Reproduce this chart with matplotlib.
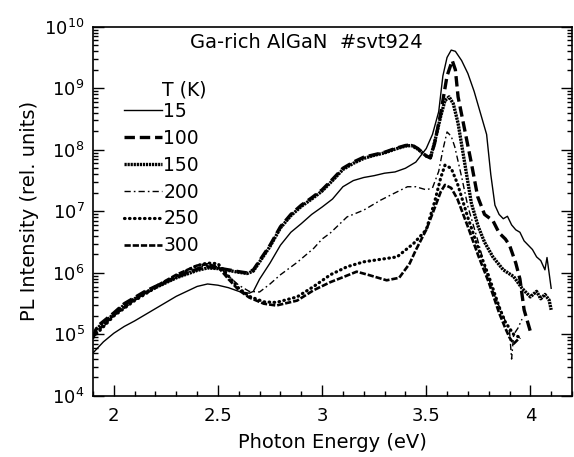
import numpy as np
import matplotlib
matplotlib.use("Agg")
import matplotlib.pyplot as plt
from matplotlib.ticker import FixedLocator, MultipleLocator, NullFormatter

plt.rcParams['font.family'] = ['DejaVu Sans']
plt.rcParams['mathtext.fontset'] = 'dejavusans'
plt.rcParams['lines.scale_dashes'] = False

title_text = "Ga-rich AlGaN  #svt924"
legend_title = "T (K)"
labels = ["15", "100", "150", "200", "250", "300"]
x_ticks = [2, 2.5, 3, 3.5, 4]
x_ticklabels = ["2", "2.5", "3", "3.5", "4"]
y_exponents = [4, 5, 6, 7, 8, 9, 10]

# ---- data (photon energy in eV, log10 of PL intensity) ----
E_15 = [1.90, 1.95, 2.00, 2.05, 2.10, 2.15, 2.20, 2.25, 2.30, 2.35, 2.40, 2.45, 2.50, 2.55,
        2.60, 2.65, 2.67, 2.70, 2.75, 2.80, 2.85, 2.90, 2.95, 3.00, 3.05, 3.10, 3.15, 3.20,
        3.25, 3.30, 3.35, 3.40, 3.45, 3.50, 3.53, 3.56, 3.58, 3.60, 3.62, 3.64, 3.67, 3.70,
        3.73, 3.76, 3.79, 3.81, 3.83, 3.85, 3.87, 3.89, 3.91, 3.93, 3.95, 3.97, 3.99, 4.01,
        4.03, 4.05, 4.07, 4.08, 4.09, 4.10]
L_15 = [4.70, 4.88, 5.02, 5.13, 5.22, 5.32, 5.42, 5.52, 5.62, 5.70, 5.78, 5.82, 5.80, 5.76,
        5.70, 5.67, 5.70, 5.90, 6.16, 6.45, 6.66, 6.80, 6.95, 7.07, 7.20, 7.40, 7.50, 7.55,
        7.58, 7.62, 7.64, 7.70, 7.80, 8.02, 8.25, 8.62, 9.20, 9.50, 9.62, 9.60, 9.45, 9.24,
        8.95, 8.60, 8.25, 7.60, 7.10, 6.95, 6.88, 6.92, 6.78, 6.70, 6.66, 6.52, 6.45, 6.38,
        6.26, 6.20, 6.05, 6.25, 6.00, 5.75]

E_100 = [1.90, 1.92, 2.00, 2.05, 2.10, 2.15, 2.20, 2.25, 2.30, 2.35, 2.40, 2.45, 2.50, 2.55,
         2.60, 2.64, 2.67, 2.70, 2.75, 2.80, 2.85, 2.90, 2.95, 3.00, 3.05, 3.10, 3.15, 3.20,
         3.25, 3.30, 3.35, 3.40, 3.43, 3.46, 3.50, 3.52, 3.54, 3.57, 3.60, 3.625, 3.64, 3.653,
         3.685, 3.717, 3.747, 3.78, 3.82, 3.85, 3.88, 3.90, 3.93, 3.95, 3.97, 4.00]
L_100 = [4.95, 5.13, 5.35, 5.50, 5.60, 5.70, 5.78, 5.86, 5.93, 6.00, 6.06, 6.10, 6.08, 6.05,
         6.02, 6.00, 6.05, 6.20, 6.45, 6.75, 6.95, 7.10, 7.22, 7.35, 7.52, 7.70, 7.80, 7.88,
         7.92, 7.96, 8.02, 8.07, 8.08, 8.02, 7.90, 7.87, 8.10, 8.60, 9.20, 9.45, 9.30, 8.86,
         8.32, 7.78, 7.24, 6.95, 6.85, 6.65, 6.55, 6.45, 6.16, 5.90, 5.40, 5.05]

E_150 = [1.90, 1.92, 2.00, 2.05, 2.10, 2.15, 2.20, 2.25, 2.30, 2.35, 2.40, 2.45, 2.50, 2.55,
         2.60, 2.64, 2.67, 2.70, 2.75, 2.80, 2.85, 2.90, 2.95, 3.00, 3.05, 3.10, 3.15, 3.20,
         3.25, 3.30, 3.35, 3.40, 3.43, 3.46, 3.50, 3.52, 3.54, 3.57, 3.59, 3.61, 3.63, 3.653,
         3.685, 3.717, 3.75, 3.78, 3.82, 3.87, 3.92, 3.96, 4.00, 4.03, 4.05, 4.07, 4.09, 4.10]
L_150 = [5.00, 5.10, 5.33, 5.48, 5.58, 5.68, 5.76, 5.84, 5.92, 5.98, 6.04, 6.08, 6.07, 6.04,
         6.01, 5.99, 6.03, 6.18, 6.43, 6.73, 6.93, 7.08, 7.20, 7.33, 7.50, 7.68, 7.78, 7.86,
         7.91, 7.95, 8.01, 8.06, 8.07, 8.01, 7.90, 7.87, 8.12, 8.55, 8.80, 8.86, 8.75, 8.43,
         7.78, 7.13, 6.75, 6.50, 6.26, 6.05, 5.94, 5.75, 5.61, 5.70, 5.58, 5.65, 5.56, 5.40]

E_200 = [1.90, 2.00, 2.10, 2.20, 2.30, 2.40, 2.45, 2.50, 2.55, 2.60, 2.65, 2.70, 2.75, 2.80,
         2.88, 2.96, 3.00, 3.04, 3.12, 3.20, 3.28, 3.35, 3.41, 3.45, 3.50, 3.53, 3.56, 3.58,
         3.60, 3.62, 3.637, 3.67, 3.70, 3.75, 3.79, 3.83, 3.87, 3.90, 3.91, 3.92, 3.94, 3.96]
L_200 = [4.95, 5.30, 5.55, 5.75, 5.92, 6.08, 6.12, 6.10, 5.95, 5.80, 5.70, 5.69, 5.82, 5.97,
         6.17, 6.40, 6.55, 6.65, 6.91, 7.02, 7.18, 7.30, 7.40, 7.40, 7.35, 7.38, 7.65, 8.00,
         8.29, 8.22, 8.05, 7.56, 7.08, 6.50, 6.00, 5.62, 5.30, 5.05, 4.60, 5.00, 5.10, 5.25]

E_250 = [1.90, 2.00, 2.10, 2.20, 2.30, 2.40, 2.45, 2.50, 2.55, 2.60, 2.65, 2.72, 2.78, 2.88,
         2.96, 3.04, 3.12, 3.20, 3.28, 3.36, 3.44, 3.50, 3.54, 3.57, 3.59, 3.62, 3.65, 3.70,
         3.75, 3.80, 3.85, 3.88, 3.92, 3.95]
L_250 = [4.95, 5.30, 5.55, 5.76, 5.95, 6.12, 6.16, 6.15, 5.95, 5.75, 5.62, 5.53, 5.52, 5.61,
         5.78, 5.97, 6.10, 6.18, 6.22, 6.26, 6.48, 6.70, 7.15, 7.55, 7.75, 7.70, 7.45, 6.90,
         6.40, 5.95, 5.45, 5.20, 5.00, 4.95]

E_300 = [1.90, 2.00, 2.10, 2.20, 2.30, 2.40, 2.45, 2.50, 2.55, 2.60, 2.65, 2.72, 2.78, 2.88,
         2.96, 3.04, 3.10, 3.166, 3.22, 3.31, 3.37, 3.42, 3.45, 3.50, 3.54, 3.57, 3.59, 3.62,
         3.65, 3.70, 3.75, 3.80, 3.85, 3.88, 3.90, 3.92, 3.95]
L_300 = [4.98, 5.32, 5.57, 5.78, 5.97, 6.12, 6.14, 6.10, 5.90, 5.72, 5.60, 5.50, 5.47, 5.55,
         5.72, 5.85, 5.93, 6.02, 5.97, 5.88, 5.92, 6.15, 6.37, 6.70, 7.05, 7.32, 7.43, 7.38,
         7.20, 6.75, 6.28, 5.85, 5.35, 5.10, 4.95, 4.85, 4.95]

series = [(E_15, L_15), (E_100, L_100), (E_150, L_150),
          (E_200, L_200), (E_250, L_250), (E_300, L_300)]
styles = [
    dict(ls='-', lw=1.0),
    dict(ls=(0, (7.5, 3.5)), lw=2.4),
    dict(ls=(0, (1.6, 0.6)), lw=2.4),
    dict(ls=(0, (4.5, 2.2, 1.2, 2.2)), lw=1.0),
    dict(ls=(0, (0.4, 3.2)), lw=2.3, dash_capstyle='round'),
    dict(ls=(0, (4.5, 1.4)), lw=1.9),
]

fig = plt.figure(figsize=(5.74, 4.57), dpi=100)
AX_L, AX_R, AX_T, AX_B = 93, 572, 26.7, 396
ax = fig.add_axes([AX_L/574, (457-AX_B)/457, (AX_R-AX_L)/574, (AX_B-AX_T)/457])

def axx(px):
    return (px - AX_L) / (AX_R - AX_L)

def axy(py):
    return (AX_B - py) / (AX_B - AX_T)

handles = []
for (E, L), lab, st in zip(series, labels, styles):
    h, = ax.plot(E, 10.0 ** np.asarray(L), color='black', label=lab, **st)
    handles.append(h)

ax.set_yscale('log')
ax.set_xlim(1.9, 4.2)
ax.set_ylim(1e4, 1e10)
ax.set_xticks(x_ticks)
ax.set_xticklabels(x_ticklabels)
ax.xaxis.set_minor_locator(MultipleLocator(0.1))
major_y = [10.0 ** e for e in y_exponents]
minor_y = [m * 10.0 ** e for e in y_exponents[:-1] for m in range(2, 10)]
ax.yaxis.set_major_locator(FixedLocator(major_y))
ax.yaxis.set_minor_locator(FixedLocator(minor_y))
ax.set_yticklabels([r"$10^{%d}$" % e for e in y_exponents])
ax.yaxis.set_minor_formatter(NullFormatter())

ax.tick_params(axis='both', which='both', direction='in', labelsize=13, width=1.0)
ax.tick_params(axis='y', which='both', left=True, right=True)
ax.tick_params(axis='x', which='both', bottom=True, top=False)
ax.tick_params(axis='x', which='major', pad=8)
ax.tick_params(axis='y', which='major', length=8, pad=6)
ax.tick_params(axis='y', which='minor', length=3.5)
ax.tick_params(axis='x', which='major', length=8)
ax.tick_params(axis='x', which='minor', length=3.5)
for s in ax.spines.values():
    s.set_linewidth(1.2)

ax.set_xlabel("Photon Energy (eV)", fontsize=14, labelpad=6)
ax.set_ylabel("PL Intensity (rel. units)", fontsize=14, labelpad=4)

ax.text(axx(306), axy(43), title_text, transform=ax.transAxes, ha='center', va='center',
        fontsize=14)
ax.text(axx(162), axy(90), legend_title, transform=ax.transAxes,
        ha='left', va='center', fontsize=13.5)

leg = ax.legend(handles=handles, loc='upper left', frameon=False, fontsize=13.5,
                bbox_to_anchor=(axx(124), axy(102)),
                handlelength=2.0, handletextpad=0.1, labelspacing=0.42,
                borderpad=0.0, borderaxespad=0.0)

fig.savefig("out.png", dpi=100)
